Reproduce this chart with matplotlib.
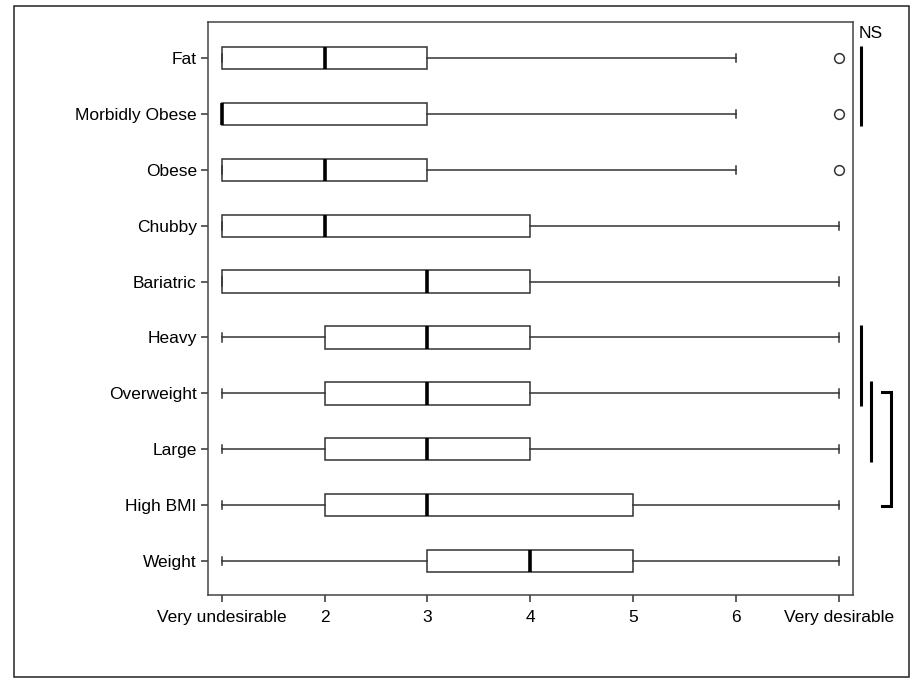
import numpy as np
import matplotlib.pyplot as plt
from matplotlib.transforms import blended_transform_factory
from matplotlib.patches import Rectangle

plt.rcParams['font.family'] = ['Liberation Sans', 'DejaVu Sans']

# categories, top to bottom
labels = ['Fat', 'Morbidly Obese', 'Obese', 'Chubby', 'Bariatric',
          'Heavy', 'Overweight', 'Large', 'High BMI', 'Weight']
whislo = [1, 1, 1, 1, 1, 1, 1, 1, 1, 1]
q1 = [1, 1, 1, 1, 1, 2, 2, 2, 2, 3]
med = [2, 1, 2, 2, 3, 3, 3, 3, 3, 4]
q3 = [3, 3, 3, 4, 4, 4, 4, 4, 5, 5]
whishi = [6, 6, 6, 7, 7, 7, 7, 7, 7, 7]
fliers = [[7], [7], [7], [], [], [], [], [], [], []]

xticks = [1, 2, 3, 4, 5, 6, 7]
xticklabels = ['Very undesirable', '2', '3', '4', '5', '6', 'Very desirable']

# significance groups (start label, end label)
sig_lines = [('Fat', 'Morbidly Obese'), ('Heavy', 'Overweight'), ('Overweight', 'Large')]
sig_bracket = ('Overweight', 'High BMI')

n = len(labels)
pos = {lab: n - i for i, lab in enumerate(labels)}

stats = []
for i, lab in enumerate(labels):
    stats.append(dict(label=lab, whislo=whislo[i], q1=q1[i], med=med[i],
                      q3=q3[i], whishi=whishi[i], fliers=fliers[i]))

fig = plt.figure(figsize=(9.13, 6.78), dpi=100)
ax = fig.add_axes([0.2278, 0.1224, 0.7065, 0.8451])

edge = '#333333'
ax.bxp(stats, positions=[pos[l] for l in labels], vert=False, widths=0.4,
       capwidths=0.15, patch_artist=True,
       boxprops=dict(facecolor='white', edgecolor=edge, linewidth=1.1),
       whiskerprops=dict(color=edge, linewidth=1.1),
       capprops=dict(color=edge, linewidth=1.1),
       medianprops=dict(color='black', linewidth=2.6, solid_capstyle='butt'),
       flierprops=dict(marker='o', markersize=7, markerfacecolor='white',
                       markeredgecolor=edge, markeredgewidth=1.1))

ax.set_xlim(0.867, 7.136)
ax.set_ylim(0.392, 10.644)
ax.set_xticks(xticks)
ax.set_xticklabels(xticklabels)
ax.set_yticks([pos[l] for l in labels])
ax.set_yticklabels(labels)
ax.tick_params(axis='both', labelsize=12.5, length=5, width=1.1, color='#333333')
ax.tick_params(axis='x', pad=6)
ax.tick_params(axis='y', pad=3)
for s in ax.spines.values():
    s.set_color('#444444')
    s.set_linewidth(1.1)

tr = blended_transform_factory(ax.transAxes, ax.transData)
ext = 0.22
xs = [1.0124, 1.0124, 1.0279]
for x, (a, b) in zip(xs, sig_lines):
    ax.plot([x, x], [pos[a] + ext, pos[b] - ext], color='black', lw=2.2,
            transform=tr, clip_on=False, solid_capstyle='butt')

a, b = sig_bracket
ya, yb = pos[a] + 0.03, pos[b] - 0.02
ax.plot([1.045, 1.0589, 1.0589, 1.045], [ya, ya, yb, yb], color='black', lw=2.2,
        transform=tr, clip_on=False, solid_joinstyle='miter')

ax.text(1.0085, pos['Fat'] + 0.43, 'NS', transform=tr, fontsize=12.5,
        ha='left', va='center')

fig.patches.append(Rectangle((0.0153, 0.0015), 0.9803, 0.9897, transform=fig.transFigure,
                             fill=False, edgecolor='#222222', linewidth=1.1))

fig.savefig('out.png', dpi=100)
